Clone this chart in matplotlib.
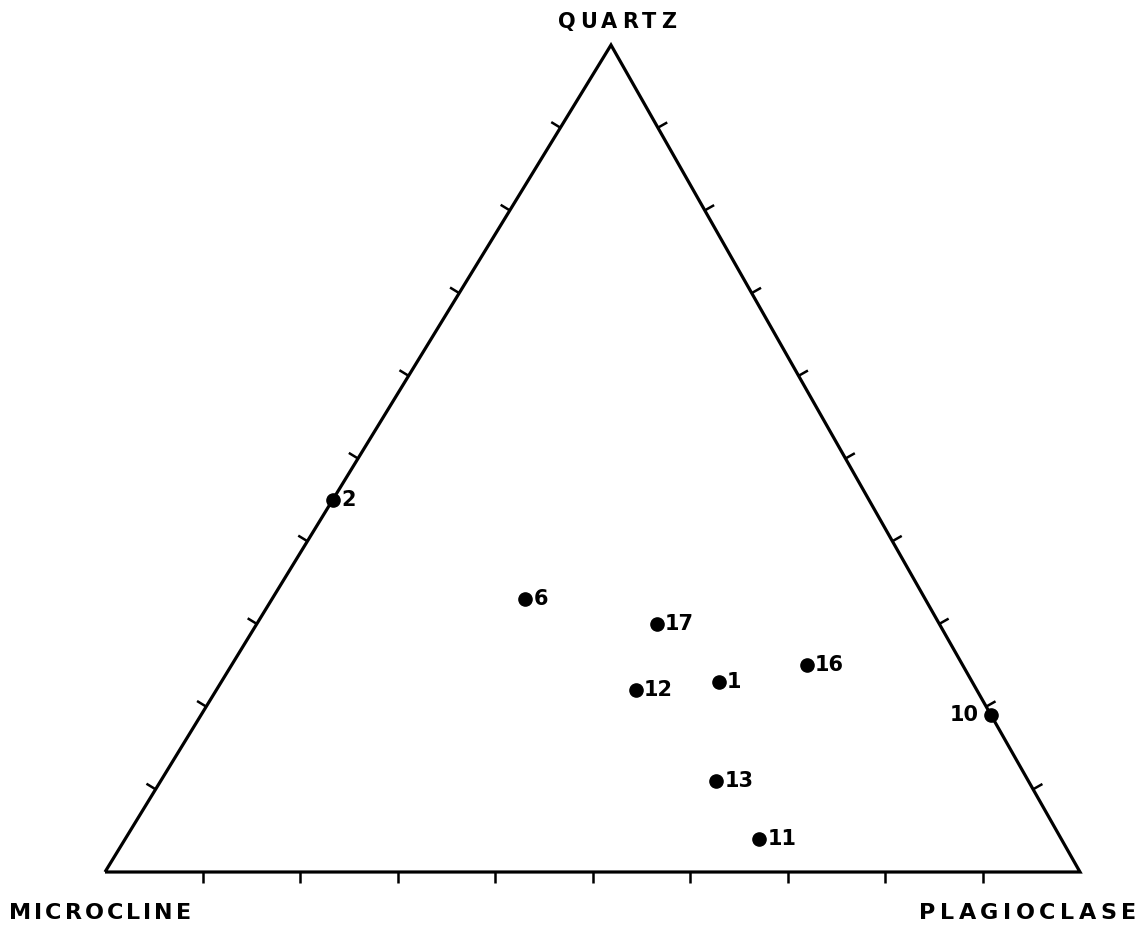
import numpy as np
import matplotlib
matplotlib.use("Agg")
import matplotlib.pyplot as plt
from matplotlib.transforms import IdentityTransform

# Modal composition (%) of each sample: quartz, plagioclase, microcline
samples = ["1", "2", "6", "10", "11", "12", "13", "16", "17"]
quartz = [23, 45, 33, 19, 4, 22, 11, 25, 30]
plagioclase = [51, 0, 26, 81, 65, 43, 57, 59, 41]
microcline = [26, 55, 41, 0, 31, 35, 32, 16, 29]

apex_labels = ["QUARTZ", "MICROCLINE", "PLAGIOCLASE"]
tick_fractions = [0.1, 0.2, 0.3, 0.4, 0.5, 0.6, 0.7, 0.8, 0.9]

# Triangle geometry (microcline corner at origin, plagioclase at (1, 0))
APEX_X = 506 / 975
APEX_H = 827 / 975
M = np.array([0.0, 0.0])
P = np.array([1.0, 0.0])
Q = np.array([APEX_X, APEX_H])


def to_xy(q, p, m):
    q = np.asarray(q, float)
    p = np.asarray(p, float)
    m = np.asarray(m, float)
    s = q + p + m
    q, p, m = q / s, p / s, m / s
    return m * M[0] + p * P[0] + q * Q[0], m * M[1] + p * P[1] + q * Q[1]


W, H = 1144, 932
fig = plt.figure(figsize=(W / 100, H / 100), dpi=100)
ax = fig.add_axes([0, 0, 1, 1])
ax.set_xlim(-105 / 975, (W - 105) / 975)
ax.set_ylim(-(H - 872) / 975, 872 / 975)
ax.set_axis_off()

lw = 2.3
tri = np.array([M, P, Q, M])
ax.plot(tri[:, 0], tri[:, 1], color="black", lw=lw, solid_joinstyle="miter",
        solid_capstyle="butt")

# Outward-pointing ticks every 10 %
tick_len = 0.011
edges = [(M, P), (P, Q), (Q, M)]
for a, b in edges:
    d = b - a
    n = np.array([d[1], -d[0]])
    n = n / np.linalg.norm(n)
    for f in tick_fractions:
        pt = a + f * d
        ax.plot([pt[0], pt[0] + n[0] * tick_len], [pt[1], pt[1] + n[1] * tick_len],
                color="black", lw=1.8, solid_capstyle="butt")

# Sample points
xs, ys = to_xy(quartz, plagioclase, microcline)
ax.plot(xs, ys, "o", color="black", ms=9.5, ls="none", clip_on=False)
for name, x, y in zip(samples, xs, ys):
    if name == "10":
        off, ha = (-9, 0), "right"
    else:
        off, ha = (6, 0), "left"
    ax.annotate(name, (x, y), xytext=off, textcoords="offset points",
                ha=ha, va="center", fontsize=15, fontweight="bold",
                family="DejaVu Sans")

# Letter-spaced corner labels, placed in pixel units
renderer = fig.canvas.get_renderer()


def spaced_text(s, x, y_top, size, track, align="left"):
    kw = dict(fontsize=size, fontweight="bold", family="DejaVu Sans",
              va="center", ha="left", transform=IdentityTransform())
    widths = []
    for ch in s:
        t = fig.text(0, 0, ch, **kw)
        widths.append(t.get_window_extent(renderer).width)
        t.remove()
    total = sum(widths) + track * (len(s) - 1)
    x0 = x - total if align == "right" else (x - total / 2 if align == "center" else x)
    yd = H - y_top
    for ch, w in zip(s, widths):
        fig.text(x0, yd, ch, **kw)
        x0 += w + track


spaced_text(apex_labels[0], 617, 22, 15, 4.5, align="center")
spaced_text(apex_labels[1], 9, 913, 16, 3.0, align="left")
spaced_text(apex_labels[2], 1136, 913, 16, 4.5, align="right")

fig.savefig("out.png", dpi=100)
